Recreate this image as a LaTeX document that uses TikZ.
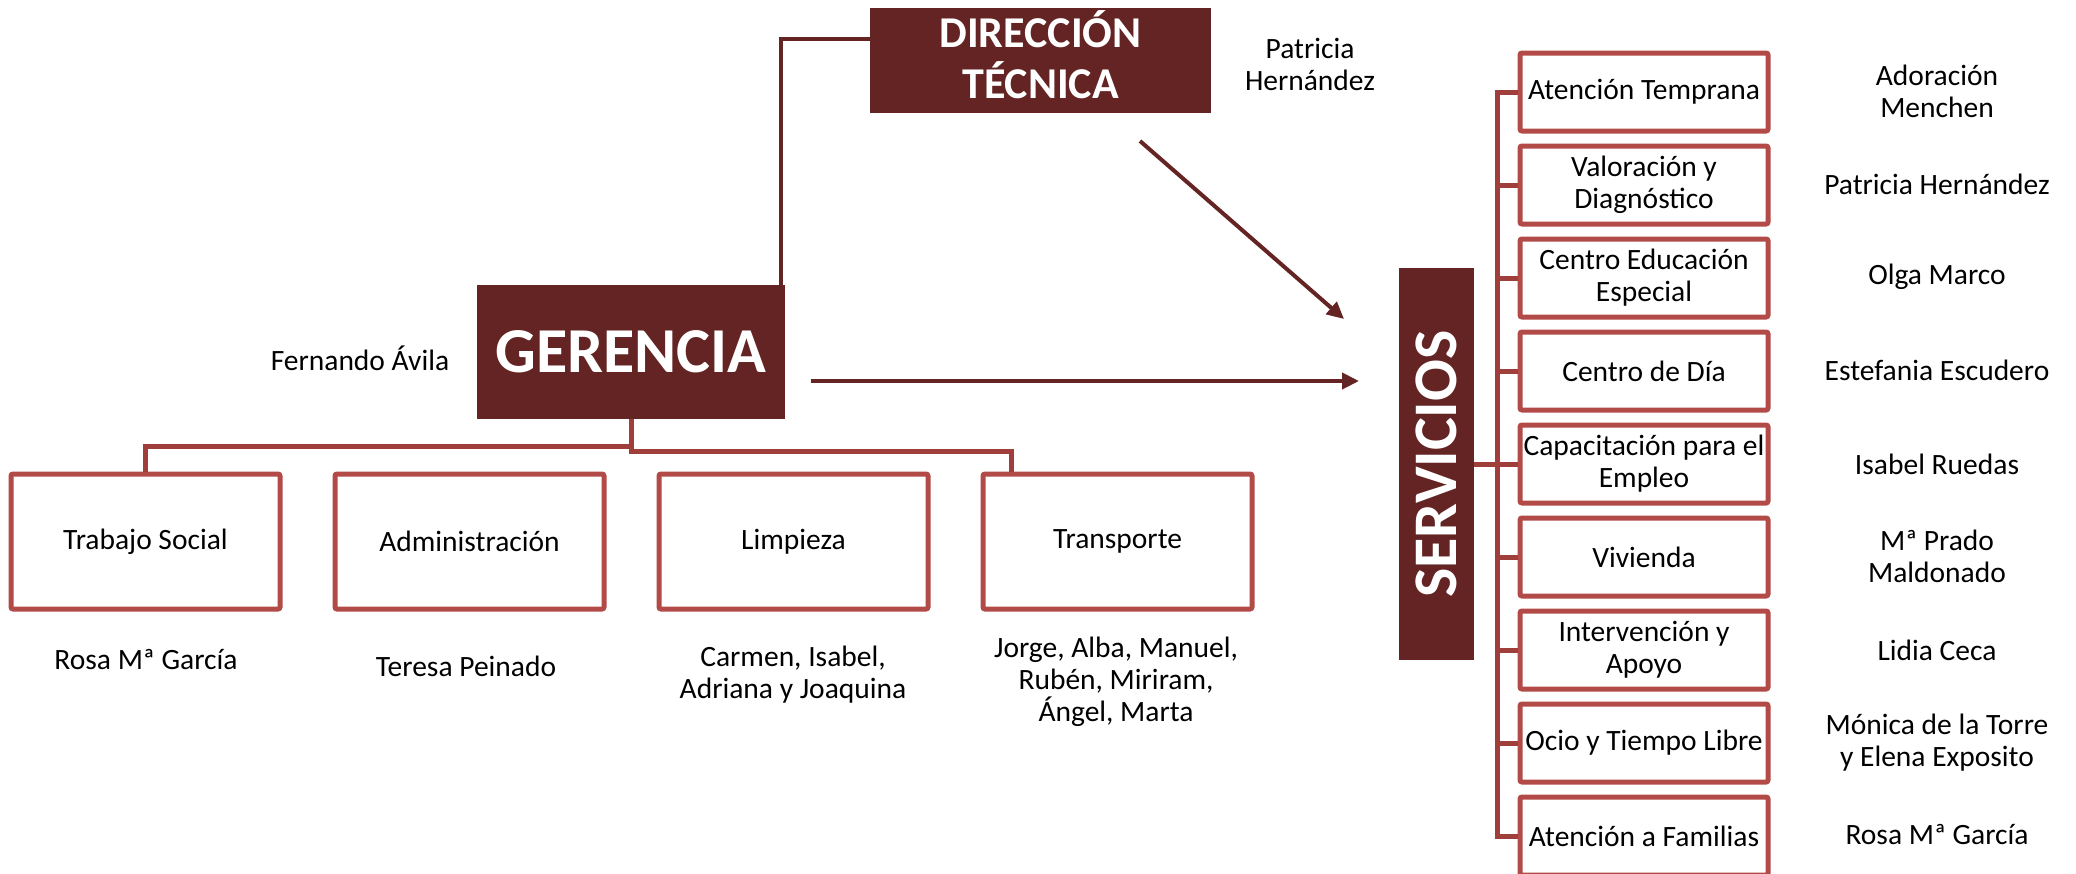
\documentclass[tikz,border=0pt]{standalone}
\usepackage{fontspec}
\setmainfont{Carlito}
\usetikzlibrary{arrows.meta}
\definecolor{darkred}{RGB}{99,36,35}
\definecolor{boxred}{RGB}{178,74,72}
\definecolor{busred}{RGB}{160,62,60}
\begin{document}
\begin{tikzpicture}[x=1pt,y=-1pt,
 darkbox/.style={fill=darkred, text=white, font=\fontsize{44}{49}\selectfont\bfseries, inner sep=0pt},
 unitbox/.style={draw=boxred, line width=5pt, rounded corners=2pt, minimum width=269pt, minimum height=135pt, inner sep=0pt, font=\fontsize{29.5}{32}\selectfont, align=center},
 servbox/.style={unitbox, minimum width=248pt, minimum height=78pt},
 lbl/.style={font=\fontsize{29.5}{32}\selectfont, align=center, inner sep=0pt},
 bus/.style={draw=busred, line width=5pt},
 arr/.style={draw=darkred, line width=4pt, -{Triangle[length=17pt,width=16pt]}},
 dtline/.style={draw=darkred, line width=3.5pt}]
\useasboundingbox (0,0) rectangle (2076,873);

% main dark boxes
\node[darkbox, minimum width=341pt, minimum height=105pt] (dt) at (1040.5,60)
  {\raisebox{-8pt}[0pt][0pt]{\begin{tabular}{@{}c@{}}DIRECCIÓN\\[-1pt]TÉCNICA\end{tabular}}};
\node[darkbox, minimum width=308pt, minimum height=134pt, font=\fontsize{64}{70}\selectfont\bfseries] (ger) at (631,352) {GERENCIA};
\node[darkbox, rotate=90, minimum width=392pt, minimum height=75pt, font=\fontsize{62}{66}\selectfont\bfseries] (serv) at (1436.5,464) {SERVICIOS};

\node[lbl] (dtname) at (1310,64.5) {Patricia\\Hernández};
\node[lbl] (gername) at (360,358) {Fernando Ávila};

% gerencia units
\node[unitbox] (ts) at (145.5,541.5) {Trabajo Social};
\node[unitbox] (ad) at (469.5,541.5) {Administración};
\node[unitbox] (li) at (793.5,541.5) {Limpieza};
\node[unitbox] (tr) at (1117.5,541.5) {Transporte};

\node[lbl] (tsn) at (146,660) {Rosa Mª García};
\node[lbl] (adn) at (466,666) {Teresa Peinado};
\node[lbl] (lin) at (793,675) {Carmen, Isabel,\\Adriana y Joaquina};
\node[lbl] (trn) at (1116,682) {Jorge, Alba, Manuel,\\Rubén, Miriram,\\Ángel, Marta};

% services
\node[servbox] (s1) at (1644,92)  {Atención Temprana};
\node[servbox] (s2) at (1644,185) {Valoración y\\Diagnóstico};
\node[servbox] (s3) at (1644,278) {Centro Educación\\Especial};
\node[servbox] (s4) at (1644,371) {Centro de Día};
\node[servbox] (s5) at (1644,464) {Capacitación para el\\Empleo};
\node[servbox] (s6) at (1644,557) {Vivienda};
\node[servbox] (s7) at (1644,650) {Intervención y\\Apoyo};
\node[servbox] (s8) at (1644,743) {Ocio y Tiempo Libre};
\node[servbox] (s9) at (1644,836) {Atención a Familias};

\node[lbl] (n1) at (1937,91)  {Adoración\\Menchen};
\node[lbl] (n2) at (1937,184) {Patricia Hernández};
\node[lbl] (n3) at (1937,277) {Olga Marco};
\node[lbl] (n4) at (1937,370) {Estefania Escudero};
\node[lbl] (n5) at (1937,464) {Isabel Ruedas};
\node[lbl] (n6) at (1937,556) {Mª Prado\\Maldonado};
\node[lbl] (n7) at (1937,650) {Lidia Ceca};
\node[lbl] (n8) at (1937,743) {Mónica de la Torre\\y Elena Exposito};
\node[lbl] (n9) at (1937,835) {Rosa Mª García};

% connectors
\draw[dtline] ([yshift=21pt]dt.west) -| ([xshift=-4pt]ger.north east);
\draw[bus] (ger.south) -- ++(0,27) -| (ts.north);
\draw[bus] (ger.south) -- ++(0,32) -| ([xshift=-106pt]tr.north);

\coordinate (bx) at (1497,464);
\draw[bus] (s1.west) -- (s1.west -| bx) -- (s9.west -| bx) -- (s9.west);
\foreach \k in {2,...,8} { \draw[bus] (s\k.west) -- (s\k.west -| bx); }
\draw[bus] (serv.south) -- (bx);

\coordinate (a1s) at (1140,141);
\coordinate (a1e) at (1344,319);
\coordinate (a2s) at (811,381);
\coordinate (a2e) at (1359,381);
\draw[arr] (a1s) -- (a1e);
\draw[arr] (a2s) -- (a2e);
\end{tikzpicture}
\end{document}
